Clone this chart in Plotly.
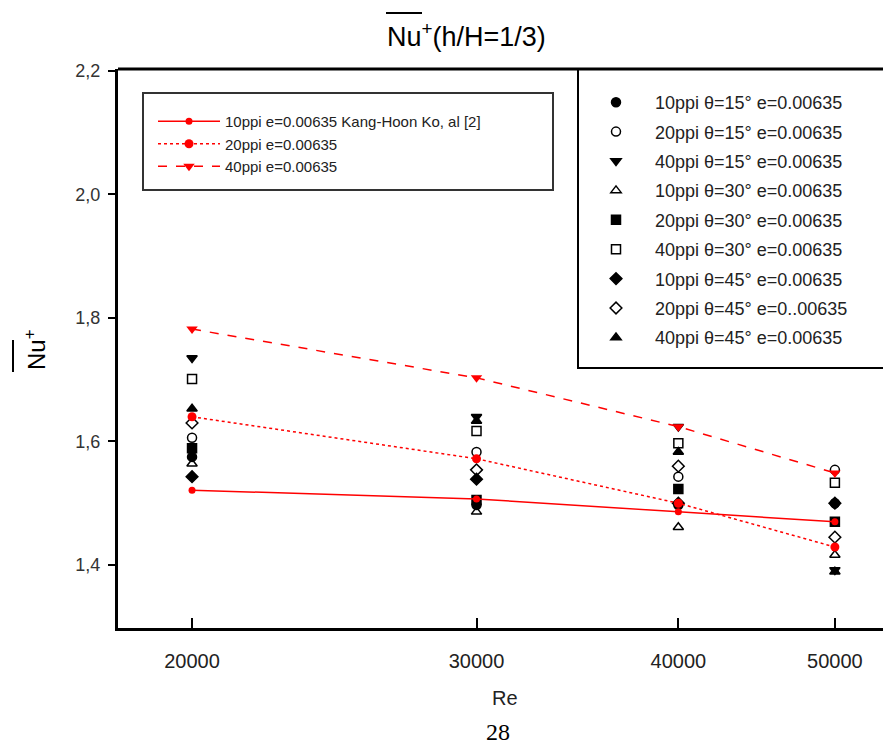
import plotly.graph_objects as go

# ---------------- data ----------------
re_vals = [20000, 30000, 40000, 50000]
re_ticktext = ["20000", "30000", "40000", "50000"]
nu_tickvals = [1.4, 1.6, 1.8, 2.0, 2.2]
nu_ticktext = ["1,4", "1,6", "1,8", "2,0", "2,2"]

# reference correlation (Kang-Hoon Ko) - red lines
ko_10ppi = [1.521, 1.507, 1.486, 1.470]
ko_20ppi = [1.640, 1.572, 1.500, 1.429]
ko_40ppi = [1.782, 1.703, 1.624, 1.549]

# measured points - black markers
p10_t15 = [1.575, 1.497, 1.497, 1.500]
p20_t15 = [1.606, 1.583, 1.543, 1.554]
p40_t15 = [1.735, 1.640, 1.624, 1.392]
p10_t30 = [1.564, 1.486, 1.461, 1.416]
p20_t30 = [1.589, 1.505, 1.523, 1.470]
p40_t30 = [1.701, 1.617, 1.597, 1.533]
p10_t45 = [1.543, 1.539, 1.500, 1.500]
p20_t45 = [1.630, 1.554, 1.560, 1.445]
p40_t45 = [1.653, 1.633, 1.583, 1.389]

black_series = [
    ("10ppi θ=15° e=0.00635", p10_t15, "circle"),
    ("20ppi θ=15° e=0.00635", p20_t15, "circle-open"),
    ("40ppi θ=15° e=0.00635", p40_t15, "triangle-down"),
    ("10ppi θ=30° e=0.00635", p10_t30, "triangle-up-open"),
    ("20ppi θ=30° e=0.00635", p20_t30, "square"),
    ("40ppi θ=30° e=0.00635", p40_t30, "square-open"),
    ("10ppi θ=45° e=0.00635", p10_t45, "diamond"),
    ("20ppi θ=45° e=0..00635", p20_t45, "diamond-open"),
    ("40ppi θ=45° e=0.00635", p40_t45, "triangle-up"),
]

red_series = [
    ("10ppi e=0.00635 Kang-Hoon Ko, al [2]", ko_10ppi, "solid", "circle", 7),
    ("20ppi e=0.00635", ko_20ppi, "dot", "circle", 9),
    ("40ppi e=0.00635", ko_40ppi, "dash", "triangle-down", 10),
]

FONT = "Arial, Liberation Sans, sans-serif"

# ---------------- geometry helpers ----------------
# page has an 8px body margin; coordinates below are in window pixels
OFF = 8
W, H = 891 - OFF, 749 - OFF
PLOT_L, PLOT_T, PLOT_B = 118, 69, 628          # window pixels
L = PLOT_L - OFF
T = PLOT_T - OFF
B = H - (PLOT_B - OFF)
R = 0
PW, PH = W - L - R, H - T - B


def px(x):
    return (x - PLOT_L) / PW


def py(y):
    return (PLOT_B - y) / PH


fig = go.Figure()

for i, (name, vals, sym) in enumerate(black_series):
    fig.add_trace(go.Scatter(
        x=re_vals, y=vals, mode="markers", name=name,
        legend="legend2", legendgroup="b%d" % i,
        marker=dict(symbol=sym, size=9, color="black",
                    line=dict(color="black", width=1.5)),
    ))

for i, (name, vals, dash, sym, msize) in enumerate(red_series):
    fig.add_trace(go.Scatter(
        x=re_vals, y=vals, mode="lines+markers", name=name,
        legend="legend",
        line=dict(color="#ff0000", width=1.5, dash=dash),
        marker=dict(symbol=sym, size=msize, color="#ff0000"),
    ))

shapes = [
    # top frame line
    dict(type="line", xref="paper", yref="paper", x0=0, x1=1.01, y0=1, y1=1,
         line=dict(color="black", width=3)),
    # left legend box
    dict(type="rect", xref="paper", yref="paper", x0=px(143), x1=px(553),
         y0=py(190), y1=py(93), line=dict(color="#333", width=2)),
    # right legend box
    dict(type="rect", xref="paper", yref="paper", x0=px(578), x1=1.02,
         y0=py(368), y1=1, line=dict(color="black", width=2)),
    # overline on title "Nu"
    dict(type="line", xref="paper", yref="paper", x0=px(386), x1=px(422),
         y0=py(13), y1=py(13), line=dict(color="black", width=2)),
    # overline on y-axis title "Nu"
    dict(type="line", xref="paper", yref="paper", x0=px(13), x1=px(13),
         y0=py(372), y1=py(340), line=dict(color="black", width=2)),
]

annotations = [
    dict(text="Nu<sup>+</sup>(h/H=1/3)", xref="paper", yref="paper",
         x=px(385), y=py(35), xanchor="left", yanchor="middle",
         showarrow=False, font=dict(family=FONT, size=27, color="black")),
    dict(text="Nu<sup>+</sup>", xref="paper", yref="paper", textangle=-90,
         x=px(35), y=py(350), xanchor="center", yanchor="middle",
         showarrow=False, font=dict(family=FONT, size=24, color="black")),
    dict(text="Re", xref="paper", yref="paper", x=px(505), y=py(698),
         xanchor="center", yanchor="middle", showarrow=False,
         font=dict(family=FONT, size=20, color="#222")),
    dict(text="28", xref="paper", yref="paper", x=px(498), y=py(732),
         xanchor="center", yanchor="middle", showarrow=False,
         font=dict(family="Liberation Serif, Times New Roman, serif", size=24, color="black")),
]

fig.update_layout(
    width=W, height=H, autosize=False,
    margin=dict(l=L, r=R, t=T, b=B, pad=0),
    paper_bgcolor="white", plot_bgcolor="white",
    showlegend=True,
    shapes=shapes, annotations=annotations,
    xaxis=dict(type="log", range=[4.2552, 4.7337],
               tickvals=re_vals, ticktext=re_ticktext,
               ticks="inside", ticklen=10, tickwidth=2, tickcolor="black",
               showline=True, linewidth=3, linecolor="black", mirror=False,
               showgrid=False, zeroline=False, ticklabelstandoff=13,
               tickfont=dict(family=FONT, size=20, color="#222")),
    yaxis=dict(range=[1.2979, 2.2032],
               tickvals=nu_tickvals, ticktext=nu_ticktext,
               ticks="outside", ticklen=7, tickwidth=2, tickcolor="black",
               showline=True, linewidth=3, linecolor="black", mirror=False,
               showgrid=False, zeroline=False, ticklabelstandoff=4,
               tickfont=dict(family=FONT, size=18, color="#333")),
    legend=dict(x=px(153), y=py(105), xanchor="left", yanchor="top",
                bgcolor="rgba(0,0,0,0)", borderwidth=0,
                traceorder="normal", itemwidth=62,
                font=dict(family=FONT, size=15, color="#222")),
    legend2=dict(x=px(577), y=py(84), xanchor="left", yanchor="top",
                 bgcolor="rgba(0,0,0,0)", borderwidth=0,
                 traceorder="grouped", tracegroupgap=3, itemwidth=68,
                 font=dict(family=FONT, size=18, color="#222")),
)

fig.write_html("out.html")
